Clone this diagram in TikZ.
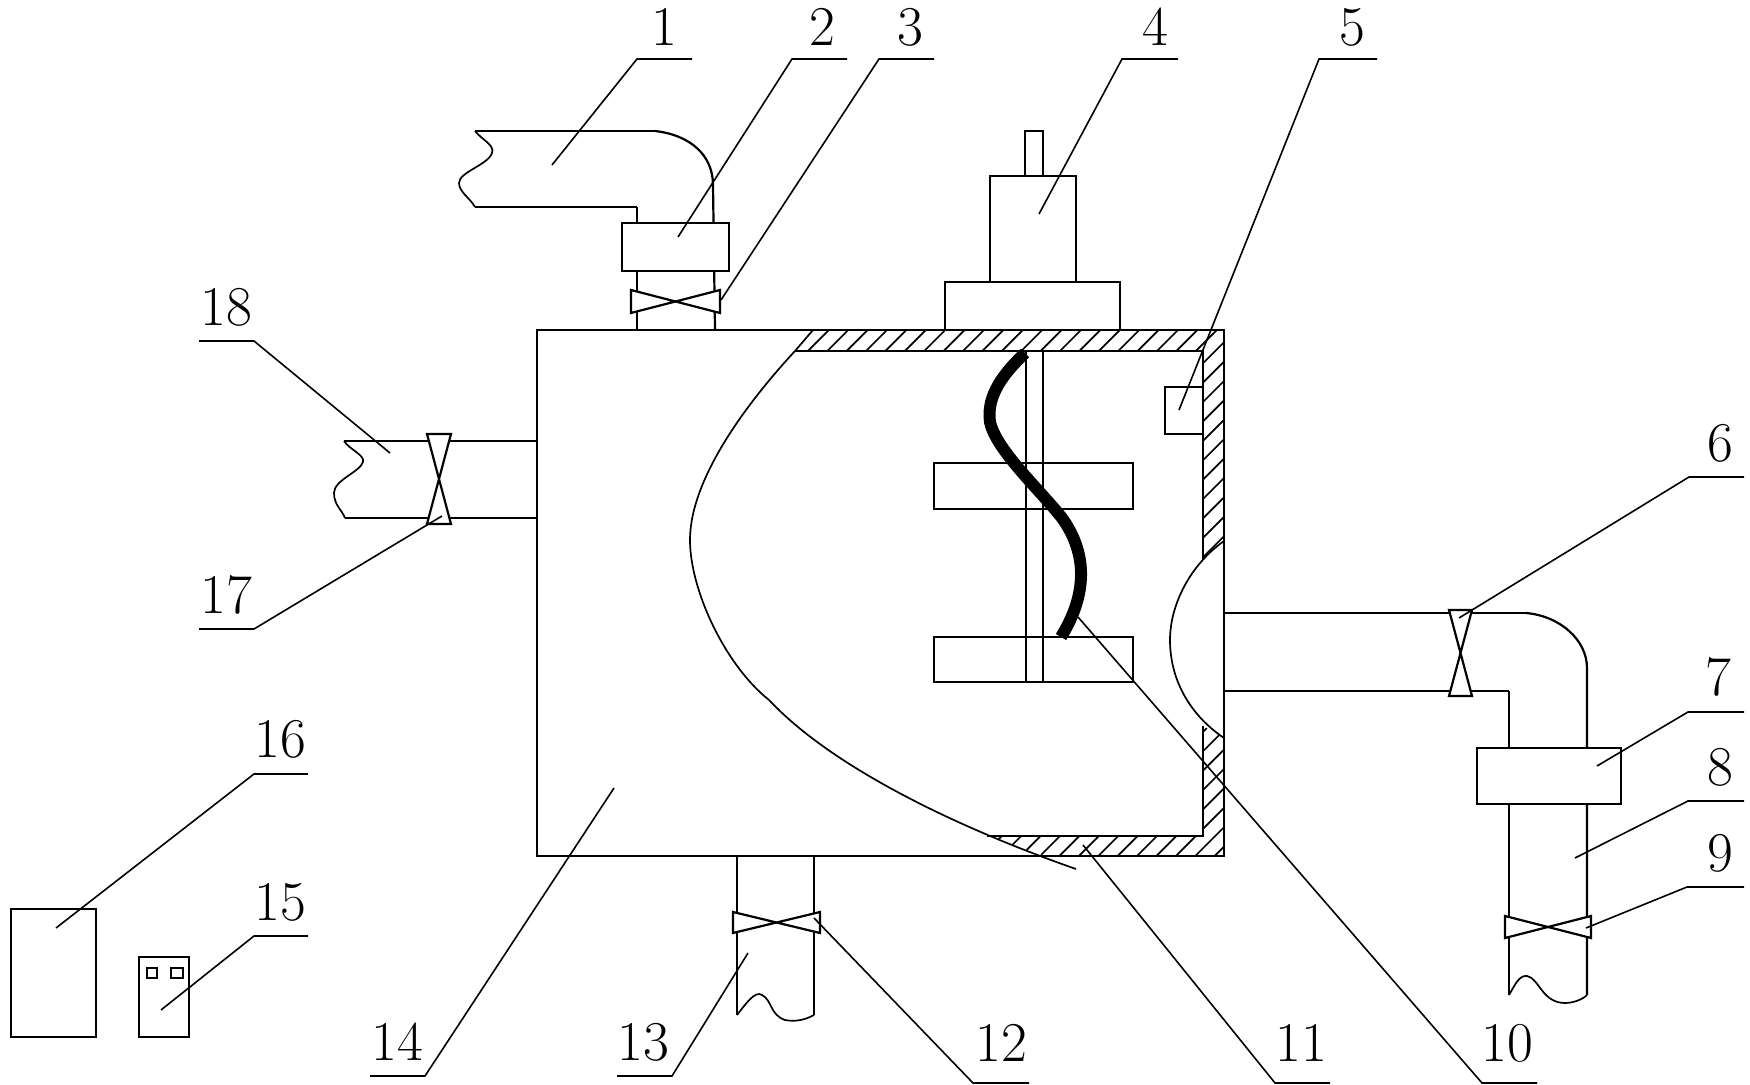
\documentclass[tikz,border=0pt]{standalone}
\usepackage{tikz}

\tikzset{
  part/.style={draw=black,line width=0.27mm,fill=white},
  wall/.style={draw=black,line width=0.27mm},
  pipe/.style={draw=black,line width=0.22mm},
  cut/.style={draw=black,line width=0.17mm},
  hatchline/.style={draw=black,line width=0.17mm},
  valve/.style={draw=black,line width=0.22mm,fill=white},
  leader/.style={draw=black,line width=0.16mm},
  num/.style={font=\fontsize{16}{18}\selectfont,inner sep=0pt}
}

\begin{document}
\begin{tikzpicture}[x=0.1mm,y=-0.1mm]
        \useasboundingbox (0,0) rectangle (1750,1085);

        % hatching of the cut wall
        \begin{scope}
        \clip (813,330) -- (1224,330) -- (1224,541) -- (1203,560) -- (1203,351) -- (795,351) -- cycle
              (1224,738) -- (1224,856) -- (1045,856) -- (987,836) -- (1203,836) -- (1203,726) -- cycle;
        \foreach \c in {800,819.4,...,1800}
            \draw[hatchline] (\c,320) -- ++(-560,560);
        \end{scope}

        % tank
        \draw[wall] (537,330) rectangle (1224,856);
        \draw[pipe] (795,351) -- (1203,351) -- (1203,560);
        \draw[pipe] (1203,726) -- (1203,836) -- (987,836);
        \draw[cut] (813,330) -- (795,351) .. controls (745,405) and (690,480) .. (690,540)
            .. controls (690,590) and (725,665) .. (769,700)
            .. controls (830,765) and (950,825) .. (1076,869);
        \draw[cut] (1224,541) .. controls (1190,565) and (1170,605) .. (1170,640)
            .. controls (1170,680) and (1190,715) .. (1224,738);

        % stirrer
        \draw[part] (934,463) rectangle (1133,509);
        \draw[part] (934,637) rectangle (1133,682);
        \draw[pipe] (1026,351) -- (1026,682);
        \draw[pipe] (1043,351) -- (1043,682);
        \draw[line width=1.2mm] (1025,353) .. controls (1005,372) and (986,395) .. (990,422)
            .. controls (996,450) and (1040,490) .. (1062,518)
            .. controls (1085,550) and (1090,590) .. (1061,637);

        % sensor and motor
        \draw[part] (1165,387) rectangle (1203,434);
        \draw[part] (1025,131) rectangle (1043,176);
        \draw[part] (990,176) rectangle (1076,282);
        \draw[part] (945,282) rectangle (1120,330);

        % upper feed pipe
        \draw[wall] (475,131) -- (655,131);
        \draw[wall] (475,207) -- (637,207);
        \draw[pipe] (655,131) .. controls (690,135) and (713,155) .. (713,185) -- (715,330);
        \draw[pipe] (637,207) -- (637,330);
        \draw[cut] (475,131) .. controls (482,140) and (495,145) .. (492,153)
            .. controls (488,165) and (459,172) .. (459,183) .. controls (459,192) and (470,198) .. (475,207);
        \draw[part] (622,223) rectangle (729,271);
        \draw[valve] (631,290) -- (720,313) -- (720,290) -- (631,313) -- cycle;

        % left pipe
        \draw[wall] (344,441) -- (537,441);
        \draw[pipe] (345,518) -- (537,518);
        \draw[cut] (344,441) .. controls (350,450) and (365,455) .. (363,462)
            .. controls (360,472) and (334,480) .. (334,493) .. controls (334,505) and (342,510) .. (345,518);
        \draw[valve] (427,434) -- (451,434) -- (427,524) -- (451,524) -- cycle;

        % bottom pipe
        \draw[pipe] (737,856) -- (737,1015);
        \draw[pipe] (814,856) -- (814,1015);
        \draw[cut] (737,1015) .. controls (745,1005) and (755,990) .. (762,995)
            .. controls (772,1000) and (770,1015) .. (785,1020) .. controls (795,1022) and (805,1020) .. (814,1015);
        \draw[valve] (733,912) -- (820,933) -- (820,912) -- (733,933) -- cycle;

        % outlet pipe
        \draw[wall] (1224,613) -- (1526,613);
        \draw[wall] (1224,691) -- (1509,691);
        \draw[pipe] (1526,613) .. controls (1560,616) and (1587,640) .. (1587,668) -- (1587,995);
        \draw[pipe] (1509,691) -- (1509,995);
        \draw[cut] (1509,995) .. controls (1515,985) and (1519,975) .. (1527,976)
            .. controls (1539,978) and (1542,1003) .. (1565,1003) .. controls (1574,1003) and (1583,999) .. (1587,995);
        \draw[part] (1477,748) rectangle (1621,804);
        \draw[valve] (1449,610) -- (1472,610) -- (1449,696) -- (1472,696) -- cycle;
        \draw[valve] (1505,916) -- (1591,938) -- (1591,916) -- (1505,938) -- cycle;

        % boxes at the lower left
        \draw[part] (11,909) rectangle (96,1037);
        \draw[part] (139,957) rectangle (189,1037);
        \draw[part] (147,968) rectangle (157,978);
        \draw[part] (171,968) rectangle (183,978);

        % numbers
        \node[num] (n1) at (664,27) {1};
        \node[num] (n2) at (822,27) {2};
        \node[num] (n3) at (910,27) {3};
        \node[num] (n4) at (1155,27) {4};
        \node[num] (n5) at (1352,27) {5};
        \node[num] (n6) at (1720,443) {6};
        \node[num] (n7) at (1718,677) {7};
        \node[num] (n8) at (1720,767) {8};
        \node[num] (n9) at (1720,853) {9};
        \node[num] (n10) at (1507,1043) {10};
        \node[num] (n11) at (1301,1043) {11};
        \node[num] (n12) at (1001,1043) {12};
        \node[num] (n13) at (643,1042) {13};
        \node[num] (n14) at (397,1042) {14};
        \node[num] (n15) at (280,902) {15};
        \node[num] (n16) at (280,739) {16};
        \node[num] (n17) at (226,595) {17};
        \node[num] (n18) at (226,307) {18};

        % leader lines
        \coordinate (e1) at (692,59); \coordinate (k1) at (637,59); \coordinate (t1) at (552,165);
        \coordinate (e2) at (847,59); \coordinate (k2) at (792,59); \coordinate (t2) at (678,237);
        \coordinate (e3) at (934,59); \coordinate (k3) at (879,59); \coordinate (t3) at (721,300);
        \coordinate (e4) at (1178,59); \coordinate (k4) at (1122,59); \coordinate (t4) at (1039,214);
        \coordinate (e5) at (1377,59); \coordinate (k5) at (1319,59); \coordinate (t5) at (1179,410);
        \coordinate (e6) at (1744,477); \coordinate (k6) at (1689,477); \coordinate (t6) at (1459,618);
        \coordinate (e7) at (1744,712); \coordinate (k7) at (1688,712); \coordinate (t7) at (1597,766);
        \coordinate (e8) at (1744,801); \coordinate (k8) at (1688,801); \coordinate (t8) at (1575,858);
        \coordinate (e9) at (1744,887); \coordinate (k9) at (1687,887); \coordinate (t9) at (1586,928);
        \coordinate (e10) at (1537,1083); \coordinate (k10) at (1482,1083); \coordinate (t10) at (1078,617);
        \coordinate (e11) at (1330,1083); \coordinate (k11) at (1275,1083); \coordinate (t11) at (1083,845);
        \coordinate (e12) at (1029,1083); \coordinate (k12) at (973,1083); \coordinate (t12) at (814,918);
        \coordinate (e13) at (617,1076); \coordinate (k13) at (672,1076); \coordinate (t13) at (748,953);
        \coordinate (e14) at (370,1076); \coordinate (k14) at (425,1076); \coordinate (t14) at (614,788);
        \coordinate (e15) at (308,936); \coordinate (k15) at (254,936); \coordinate (t15) at (161,1010);
        \coordinate (e16) at (308,774); \coordinate (k16) at (254,774); \coordinate (t16) at (56,928);
        \coordinate (e17) at (199,629); \coordinate (k17) at (254,629); \coordinate (t17) at (442,516);
        \coordinate (e18) at (199,341); \coordinate (k18) at (254,341); \coordinate (t18) at (390,453);

        \draw[leader] (e1) -- (k1) -- (t1);
        \draw[leader] (e2) -- (k2) -- (t2);
        \draw[leader] (e3) -- (k3) -- (t3);
        \draw[leader] (e4) -- (k4) -- (t4);
        \draw[leader] (e5) -- (k5) -- (t5);
        \draw[leader] (e6) -- (k6) -- (t6);
        \draw[leader] (e7) -- (k7) -- (t7);
        \draw[leader] (e8) -- (k8) -- (t8);
        \draw[leader] (e9) -- (k9) -- (t9);
        \draw[leader] (e10) -- (k10) -- (t10);
        \draw[leader] (e11) -- (k11) -- (t11);
        \draw[leader] (e12) -- (k12) -- (t12);
        \draw[leader] (e13) -- (k13) -- (t13);
        \draw[leader] (e14) -- (k14) -- (t14);
        \draw[leader] (e15) -- (k15) -- (t15);
        \draw[leader] (e16) -- (k16) -- (t16);
        \draw[leader] (e17) -- (k17) -- (t17);
        \draw[leader] (e18) -- (k18) -- (t18);
        \end{tikzpicture}
\end{document}
